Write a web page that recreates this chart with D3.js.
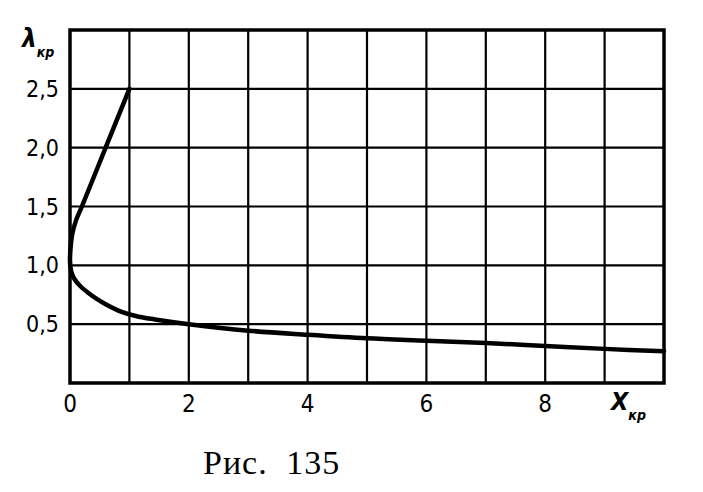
<!DOCTYPE html>
<html>
<head>
<meta charset="utf-8">
<script src="https://cdn.jsdelivr.net/npm/d3@7"></script>
<style>
  html, body { margin: 0; padding: 0; background: #fff; }
  svg { display: block; }
</style>
</head>
<body>
<svg id="chart" width="703" height="492"></svg>
<script>
// ---- data ----
const xTickValues = [0, 2, 4, 6, 8];
const xTickLabels = ["0", "2", "4", "6", "8"];
const yTickValues = [0.5, 1.0, 1.5, 2.0, 2.5];
const yTickLabels = ["0,5", "1,0", "1,5", "2,0", "2,5"];
const xGrid = [1, 2, 3, 4, 5, 6, 7, 8, 9];
const yGrid = [0.5, 1.0, 1.5, 2.0, 2.5];
// curve: X_кр vs λ_кр
const curveX =      [1.0, 0.6, 0.2, 0.1, 0.04, 0.01, 0.0, 0.02, 0.08, 0.18, 0.31, 0.45, 0.6, 0.87, 1.14, 1.43, 2.0, 3.0, 4.0, 5.0, 6.0, 7.0, 8.0, 9.0, 10.0];
const curveLambda = [2.5, 2.0, 1.5, 1.38, 1.27, 1.15, 1.04, 0.95, 0.88, 0.82, 0.765, 0.715, 0.67, 0.605, 0.565, 0.54, 0.5, 0.445, 0.41, 0.38, 0.36, 0.34, 0.315, 0.29, 0.27];

const svg = d3.select("#chart");
const x = d3.scaleLinear().domain([0, 10]).range([70, 664]);
const y = d3.scaleLinear().domain([0, 3]).range([383, 30]);

const tickFont = "'DejaVu Sans Condensed', 'DejaVu Sans', sans-serif";

// grid
svg.append("g").selectAll("line").data(xGrid).join("line")
  .attr("x1", d => x(d)).attr("x2", d => x(d))
  .attr("y1", y(3)).attr("y2", y(0))
  .attr("stroke", "#000").attr("stroke-width", 2.2);
svg.append("g").selectAll("line").data(yGrid).join("line")
  .attr("x1", x(0)).attr("x2", x(10))
  .attr("y1", d => y(d)).attr("y2", d => y(d))
  .attr("stroke", "#000").attr("stroke-width", 2.2);

// frame
svg.append("rect")
  .attr("x", x(0)).attr("y", y(3))
  .attr("width", x(10) - x(0)).attr("height", y(0) - y(3))
  .attr("fill", "none").attr("stroke", "#000").attr("stroke-width", 3.5);

// curve
const pts = curveX.map((v, i) => [v, curveLambda[i]]);
const line = d3.line().x(d => x(d[0])).y(d => y(d[1])).curve(d3.curveCatmullRom.alpha(0.5));
svg.append("path").attr("d", line(pts))
  .attr("fill", "none").attr("stroke", "#000").attr("stroke-width", 4.5)
  .attr("stroke-linejoin", "round").attr("stroke-linecap", "round");

// x tick labels
svg.append("g").selectAll("text").data(xTickValues).join("text")
  .attr("x", d => x(d)).attr("y", 412)
  .attr("text-anchor", "middle")
  .attr("font-family", tickFont).attr("font-size", 24)
  .text((d, i) => xTickLabels[i]);

// y tick labels
svg.append("g").selectAll("text").data(yTickValues).join("text")
  .attr("x", 59).attr("y", d => y(d) + 8)
  .attr("text-anchor", "end")
  .attr("font-family", tickFont).attr("font-size", 23)
  .text((d, i) => yTickLabels[i]);

// axis titles
const yt = svg.append("text").attr("x", 22).attr("y", 47)
  .attr("font-family", tickFont).attr("font-style", "italic").attr("font-weight", "bold");
yt.append("tspan").attr("font-size", 26).text("λ");
yt.append("tspan").attr("font-size", 14).attr("dy", 10).text("кр");

const xt = svg.append("text").attr("x", 611).attr("y", 410)
  .attr("font-family", tickFont).attr("font-style", "italic").attr("font-weight", "bold");
xt.append("tspan").attr("font-size", 25).text("X");
xt.append("tspan").attr("font-size", 14).attr("dy", 10).text("кр");

// caption
svg.append("text").attr("x", 203).attr("y", 474)
  .attr("font-family", "'Liberation Serif', 'DejaVu Serif', serif")
  .attr("font-size", 34)
  .attr("letter-spacing", 1)
  .attr("word-spacing", 9)
  .text("Рис. 135");
</script>
</body>
</html>
